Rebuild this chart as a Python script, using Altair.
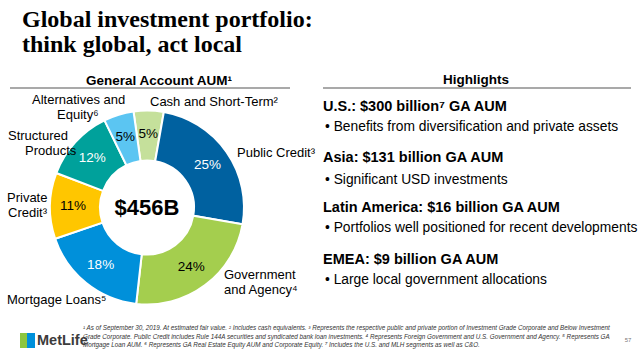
import math
import altair as alt
import pandas as pd

# ---------------- data ----------------
categories = ["Cash and Short-Term", "Public Credit", "Government and Agency",
              "Mortgage Loans", "Private Credit", "Structured Products",
              "Alternatives and Equity"]
shares = [5, 25, 24, 18, 11, 12, 5]
pct_labels = ["5%", "25%", "24%", "18%", "11%", "12%", "5%"]
total_label = "$456B"

highlight_heads = ["U.S.: $300 billion\u2077 GA AUM", "Asia: $131 billion GA AUM",
                   "Latin America: $16 billion GA AUM", "EMEA: $9 billion GA AUM"]
highlight_bullets = ["\u2022  Benefits from diversification and private assets",
                     "\u2022  Significant USD investments",
                     "\u2022  Portfolios well positioned for recent developments",
                     "\u2022  Large local government allocations"]

footnotes = [
    "\u00b9 As of September 30, 2019. At estimated fair value. \u00b2 Includes cash equivalents. \u00b3 Represents the respective public and private portion of Investment Grade Corporate and Below Investment",
    "Grade Corporate. Public Credit includes Rule 144A securities and syndicated bank loan investments. \u2074 Represents Foreign Government and U.S. Government and Agency. \u2075 Represents GA",
    "Mortgage Loan AUM. \u2076 Represents GA Real Estate Equity AUM and Corporate Equity. \u2077 Includes the U.S. and MLH segments as well as C&O.",
]

# ---------------- styles ----------------
slice_colors = ["#C5E09B", "#0061A0", "#A4CE4E", "#0090DA", "#FFC600", "#00A19B", "#5BC5F2"]
dark_slices = {"Public Credit", "Mortgage Loans", "Structured Products"}
SANS = "Liberation Sans"
SERIF = "Liberation Serif"
CX, CY = 147, 207.5
start = math.radians(-8)

df = pd.DataFrame({
    "cat": categories,
    "share": shares,
    "label": pct_labels,
    "order": list(range(len(categories))),
})
df["lc"] = ["#FFFFFF" if c in dark_slices else "#000000" for c in categories]

theta_scale = alt.Scale(domain=[0, 100], range=[start, start + 2 * math.pi])
base = alt.Chart(df).encode(
    theta=alt.Theta("share:Q", stack=True, scale=theta_scale),
    order=alt.Order("order:Q"),
)

arcs = base.mark_arc(innerRadius=47, outerRadius=97, stroke="white", strokeWidth=2).encode(
    color=alt.Color("cat:N", scale=alt.Scale(domain=categories, range=slice_colors), legend=None),
    x=alt.value(CX), y=alt.value(CY),
)

pct = base.mark_text(radius=74, fontSize=13.5, font=SANS).encode(
    text="label:N",
    color=alt.Color("lc:N", scale=None),
    x=alt.value(CX), y=alt.value(CY),
)


def txt(s, x, y, size=13, weight="normal", align="left", font=SANS,
        color="#000000", style="normal", baseline="middle"):
    return alt.Chart(pd.DataFrame({"t": [s]})).mark_text(
        align=align, baseline=baseline, fontSize=size, fontWeight=weight,
        font=font, color=color, fontStyle=style,
    ).encode(text="t:N", x=alt.value(x), y=alt.value(y))


def rule(x1, x2, y, color="#8C8C8C", w=1.5):
    return alt.Chart(pd.DataFrame({"a": [0]})).mark_rule(color=color, strokeWidth=w).encode(
        x=alt.value(x1), x2=alt.value(x2), y=alt.value(y))


def rect(x1, x2, y1, y2, color):
    return alt.Chart(pd.DataFrame({"a": [0]})).mark_rect(color=color).encode(
        x=alt.value(x1), x2=alt.value(x2), y=alt.value(y1), y2=alt.value(y2))


layers = [arcs, pct]

# title
layers.append(txt("Global investment portfolio:", 22, 27, size=24, weight="bold", font=SERIF, baseline="alphabetic"))
layers.append(txt("think global, act local", 22, 52, size=24, weight="bold", font=SERIF, baseline="alphabetic"))

# section headers and rules
layers.append(txt("General Account AUM\u00b9", 159, 81, size=13.5, weight="bold", align="center"))
layers.append(txt("Highlights", 476, 80, size=13.5, weight="bold", align="center"))
layers.append(rule(10, 290, 88))
layers.append(rule(323, 631, 88))

# centre total
layers.append(txt(total_label, CX, CY, size=22, weight="bold", align="center"))

# outer category labels
outer = [
    ("Alternatives and", 32, 100), ("Equity\u2076", 57, 115),
    ("Cash and Short-Term\u00b2", 150, 102),
    ("Structured", 8, 136), ("Products", 25, 151),
    ("Public Credit\u00b3", 237, 153),
    ("Private", 7, 198), ("Credit\u00b3", 8, 213),
    ("Government", 224, 275), ("and Agency\u2074", 224, 290),
    ("Mortgage Loans\u2075", 7, 300),
]
for s, x, y in outer:
    layers.append(txt(s, x, y, size=13))

# highlights
head_y = [107, 158, 208, 260]
bullet_y = [127, 180, 228, 280]
for h, b, hy, by in zip(highlight_heads, highlight_bullets, head_y, bullet_y):
    layers.append(txt(h, 323, hy, size=14.5, weight="bold"))
    layers.append(txt(b, 325, by, size=13.8))

# footnotes
for i, f in enumerate(footnotes):
    layers.append(txt(f, 83, 328 + i * 8.5, size=6.3, style="italic", color="#333333"))
layers.append(txt("57", 628, 340, size=6, color="#777777", align="center"))

# logo
layers.append(rect(20, 27, 333, 348, "#8DC63F"))
layers.append(rect(27, 35, 333, 348, "#0090DA"))
layers.append(txt("MetLife", 37, 341, size=14.5, weight="bold", color="#3C3C3C"))

chart = alt.layer(*layers).properties(
    width=640, height=353, background="white", padding=0, autosize="none"
).configure_view(stroke=None)

chart.save("out.html", embed_options={"renderer": "svg", "actions": False})
